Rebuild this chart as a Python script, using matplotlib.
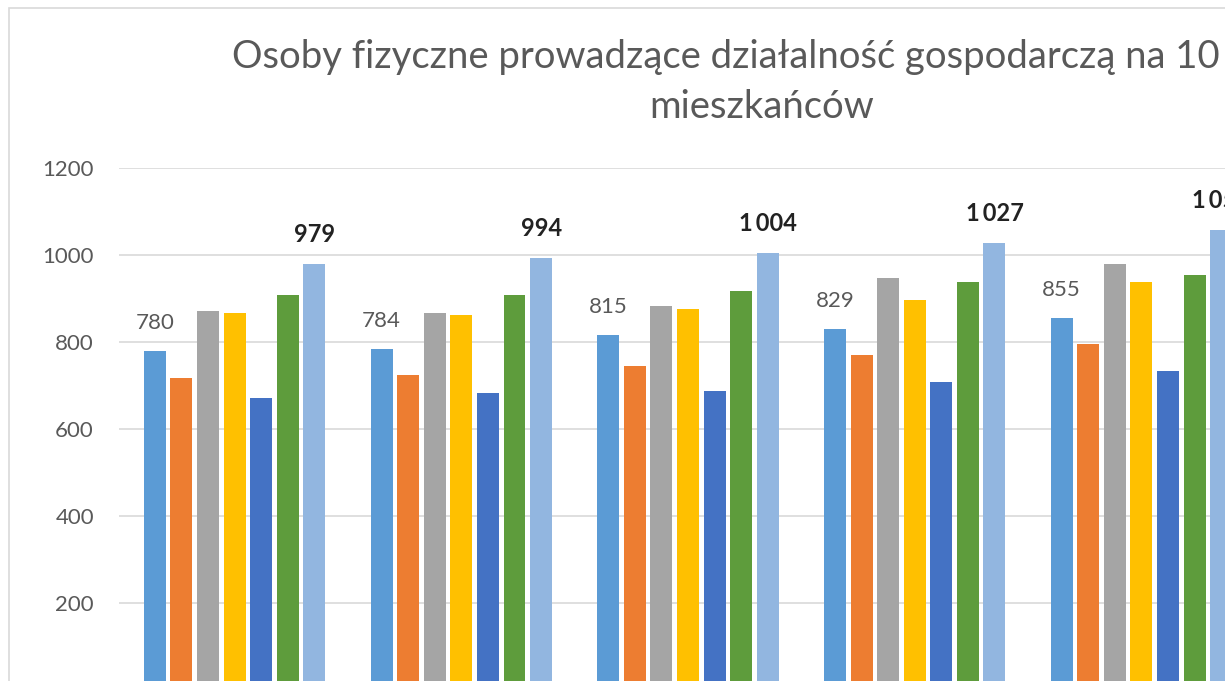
import numpy as np
import matplotlib.pyplot as plt
from matplotlib.patches import Rectangle

plt.rcParams['font.family'] = ['Lato', 'DejaVu Sans']

# data (5 groups, 7 series)
groups = np.arange(5)
s_blue = [780, 784, 815, 829, 855]
s_orange = [718, 724, 744, 770, 795]
s_gray = [872, 866, 882, 948, 979]
s_yellow = [866, 862, 877, 897, 938]
s_navy = [672, 682, 688, 708, 734]
s_green = [908, 908, 918, 938, 955]
s_light = [979, 994, 1004, 1027, 1057]

series = [s_blue, s_orange, s_gray, s_yellow, s_navy, s_green, s_light]
colors = ['#5B9BD5', '#ED7D31', '#A5A5A5', '#FFC000', '#4472C4', '#5E9C3C', '#92B6E0']

W, H = 1225, 681
fig = plt.figure(figsize=(W / 100, H / 100), dpi=100)

# chart area border (cropped on right and bottom)
fig.patches.append(Rectangle((9 / W, -0.1), 1.2, (H - 8) / H + 0.1,
                             transform=fig.transFigure, fill=False,
                             edgecolor='#D9D9D9', linewidth=1.2))

# axes runs past the right edge, like the cropped screenshot
left_px, x0, x1 = 119, -0.51, 4.6
px_per_group = 226.7
ax = fig.add_axes([left_px / W, (H - 690) / H,
                   (x1 - x0) * px_per_group / W, 522 / H])

pitch = 0.1173
width = 0.097
for k, (vals, c) in enumerate(zip(series, colors)):
    ax.bar(groups + (k - 3) * pitch, vals, width=width, color=c, zorder=3)

# data labels
for x, v in zip(groups - 3 * pitch, s_blue):
    ax.annotate(str(v), (x, v), xytext=(0, 13), textcoords='offset points',
                ha='center', va='bottom', fontsize=16, color='#595959')
for x, v in zip(groups + 3 * pitch, s_light):
    lab = f'{v:,}'.replace(',', '\u2009')
    ax.annotate(lab, (x, v), xytext=(0, 13), textcoords='offset points',
                ha='center', va='bottom', fontsize=17, color='#222222',
                fontweight='bold')

ax.set_xlim(x0, x1)
ax.set_ylim(0, 1200)
ax.set_yticks(np.arange(0, 1201, 200))
ax.set_xticks([])
ax.grid(axis='y', color='#D9D9D9', linewidth=1.2, zorder=0)
ax.tick_params(axis='y', length=0, pad=18, labelsize=16, labelcolor='#595959')
for s in ax.spines.values():
    s.set_visible(False)

fig.text(760 / W, (H - 68) / H,
         'Osoby fizyczne prowadzące działalność gospodarczą na 10 tys.',
         ha='center', va='baseline', fontsize=27.5, color='#595959')
fig.text(762 / W, (H - 118) / H, 'mieszkańców',
         ha='center', va='baseline', fontsize=27.5, color='#595959')

fig.savefig('out.png', dpi=100)
